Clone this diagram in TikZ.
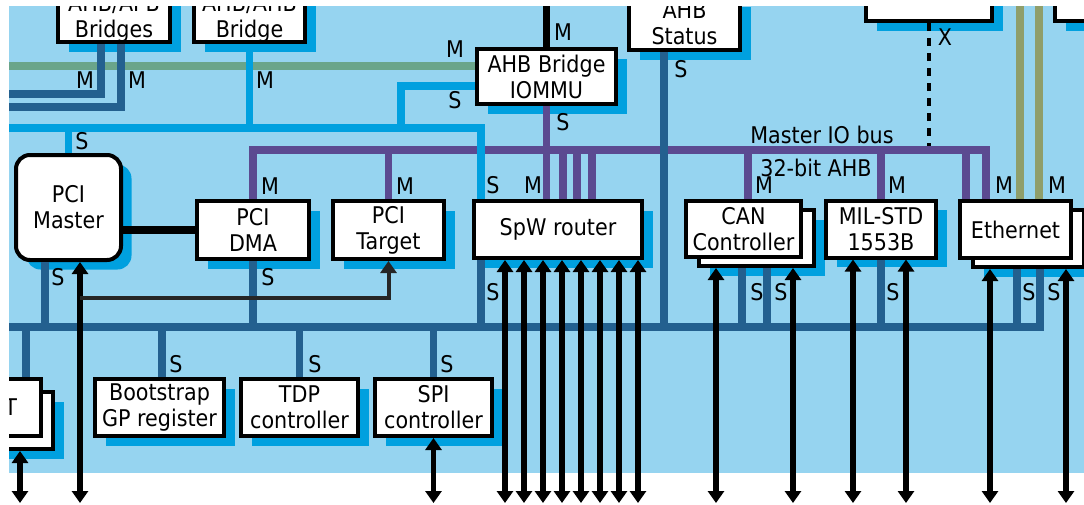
\documentclass[tikz,border=0pt]{standalone}
\usepackage{fontspec}
\setmainfont{DejaVu Sans}[FakeStretch=0.9]
\usetikzlibrary{arrows.meta,positioning,shadows}

\definecolor{bgblue}{HTML}{96D4F0}
\definecolor{shadeblue}{HTML}{00A0DF}
\definecolor{slaveblue}{HTML}{23608F}
\definecolor{iopurple}{HTML}{5B4A91}
\definecolor{pcigreen}{HTML}{6AA58A}
\definecolor{ethgreen}{HTML}{8F9E6B}

\begin{document}
\begin{tikzpicture}[
    x=1pt, y=-1pt,
    font=\fontsize{23}{26}\selectfont,
    every node/.style={align=center},
    box/.style={
        draw=black,
        line width=4pt,
        fill=white,
        inner sep=0pt,
        drop shadow={shadow xshift=10.5pt, shadow yshift=-9.5pt,
            fill=shadeblue, opacity=1}
    },
    front/.style={
        draw=black,
        line width=4pt,
        fill=white,
        inner sep=0pt
    },
    tag/.style={inner sep=0pt},
    bus/.style={line width=7.5pt},
    ahbline/.style={bus, draw=shadeblue},
    slvline/.style={bus, draw=slaveblue},
    mioline/.style={bus, draw=iopurple},
    pciline/.style={bus, draw=pcigreen},
    ethline/.style={bus, draw=ethgreen},
    link/.style={line width=7.5pt, draw=black},
    io/.style={
        {Triangle[length=12pt,width=16pt]}-{Triangle[length=12pt,width=16pt]},
        line width=5.5pt
    },
    cfg/.style={
        -{Triangle[length=12pt,width=16pt]},
        line width=4pt,
        draw=black!85
    },
    xlink/.style={line width=4pt, dash pattern=on 8pt off 7pt}
]
\useasboundingbox (0,0) rectangle (1084,504);
\fill[bgblue] (9,6) rectangle (1084,473);

\begin{scope}
\clip (9,6) rectangle (1084,504);

% levels of the buses
\coordinate (top) at (0,0);
\coordinate (floor) at (0,503);
\coordinate (gbus) at (9,66);
\coordinate (abus) at (9,128);
\coordinate (mio) at (253,150);
\coordinate (sbus) at (9,327);

% top row
\node[box, minimum width=112pt, minimum height=48pt] (apb) at (114,18.3) {AHB/APB\\Bridges};
\node[box, minimum width=111pt, minimum height=48pt] (ahb2) at (249.5,18.3) {AHB/AHB\\Bridge};
\node[box, minimum width=139pt, minimum height=55pt] (iommu) at (546.5,76.5) {AHB Bridge\\IOMMU};
\node[box, minimum width=111pt, minimum height=53pt] (status) at (684.5,23.6) {AHB\\Status};
\node[box, minimum width=126pt, minimum height=58pt] (topr) at (929,-8) {};
\node[box, minimum width=126pt, minimum height=58pt] (farr) at (1118,-8) {};

% master row
\node[box, rounded corners=14pt, minimum width=105pt, minimum height=105pt] (pcim) at (68.5,207.5) {PCI\\Master};
\node[box, minimum width=112pt, minimum height=58pt] (dma) at (253,230) {PCI\\DMA};
\node[box, minimum width=111pt, minimum height=58pt, right=20pt of dma] (target) {PCI\\Target};
\node[box, minimum width=168pt, minimum height=57pt] (spw) at (558,229.5) {SpW router};
\node[box, minimum width=115pt, minimum height=56pt] (canb) at (756.5,238) {};
\node[front, minimum width=115pt, minimum height=56pt] (canf) at ([shift={(-13,-9)}]canb.center) {CAN\\Controller};
\node[box, minimum width=110pt, minimum height=57pt, right=21pt of canf] (mil) {MIL-STD\\1553B};
\node[box, minimum width=111pt, minimum height=57pt] (ethb) at (1028.5,238.5) {};
\node[front, minimum width=111pt, minimum height=57pt] (ethf) at ([shift={(-13,-9)}]ethb.center) {Ethernet};

% slave row
\node[box, minimum width=111pt, minimum height=57pt] (ub) at (-2.5,420.5) {};
\node[front, minimum width=111pt, minimum height=57pt, text width=63pt, align=right] (uf) at ([shift={(-12,-13)}]ub.center) {T};
\node[box, minimum width=129pt, minimum height=57pt] (boot) at (159.5,407.5) {Bootstrap\\GP register};
\node[box, minimum width=117pt, minimum height=57pt, right=13pt of boot] (tdp) {TDP\\controller};
\node[box, minimum width=117pt, minimum height=57pt, right=13pt of tdp] (spi) {SPI\\controller};

% PCI bus and Ethernet debug lines
\draw[pciline] (gbus) -- (gbus -| iommu.west);
\foreach \d in {4.5,23.5}
    \draw[ethline] ([xshift=\d pt]ethf.north) -- ([xshift=\d pt]ethf.north |- top);
\draw[xlink] (topr.south) -- (topr.south |- mio);

% master IO bus
\draw[mioline] (dma.north) -- (dma.north |- mio) -| ([xshift=-29.5pt]ethf.north);
\draw[mioline] (target.north) -- (target.north |- mio);
\draw[mioline] (iommu.south) -- (iommu.south |- spw.north);
\foreach \d in {5,19,34}
    \draw[mioline] ([xshift=\d pt]spw.north) -- ([xshift=\d pt]spw.north |- mio);
\draw[mioline] ([xshift=4.5pt]canf.north) -- ([xshift=4.5pt]canf.north |- mio);
\draw[mioline] (mil.north) -- (mil.north |- mio);
\draw[mioline] ([xshift=-49.5pt]ethf.north) -- ([xshift=-49.5pt]ethf.north |- mio);

% processor AHB bus
\draw[ahbline] (ahb2.south) -- (ahb2.south |- abus);
\draw[ahbline] (pcim.north) -- (pcim.north |- abus);
\draw[ahbline] (abus) -| ([xshift=-77pt]spw.north);
\coordinate (iotap) at (401,86);
\draw[ahbline] (iotap -| iommu.west) -| (iotap |- abus);

% slave bus
\coordinate (west1) at (9,94);
\coordinate (west2) at (9,107);
\draw[slvline] ([xshift=-13pt]apb.south) |- (west1);
\draw[slvline] ([xshift=7pt]apb.south) |- (west2);
\draw[slvline] ([xshift=-20.5pt]status.south) -- ([xshift=-20.5pt]status.south |- sbus);
\draw[slvline] (sbus) -| ([xshift=11.5pt]ethb.south);
\draw[slvline] ([xshift=-11.5pt]ethb.south) -- ([xshift=-11.5pt]ethb.south |- sbus);
\draw[slvline] ([xshift=-23.5pt]pcim.south) -- ([xshift=-23.5pt]pcim.south |- sbus);
\draw[slvline] (dma.south) -- (dma.south |- sbus);
\draw[slvline] ([xshift=-77pt]spw.south) -- ([xshift=-77pt]spw.south |- sbus);
\foreach \d in {-14.5,10.5}
    \draw[slvline] ([xshift=\d pt]canb.south) -- ([xshift=\d pt]canb.south |- sbus);
\draw[slvline] (mil.south) -- (mil.south |- sbus);
\draw[slvline] ([xshift=40.5pt]uf.north) -- ([xshift=40.5pt]uf.north |- sbus);
\draw[slvline] ([xshift=2.5pt]boot.north) -- ([xshift=2.5pt]boot.north |- sbus);
\draw[slvline] (tdp.north) -- (tdp.north |- sbus);
\draw[slvline] (spi.north) -- (spi.north |- sbus);

% PCI links
\draw[link] (pcim.east |- dma.west) -- (dma.west);
\draw[link] (iommu.north) -- (iommu.north |- top);
\draw[io] ([xshift=11.5pt]pcim.south) -- ([xshift=11.5pt]pcim.south |- floor);
\path ([xshift=11.5pt]pcim.south) ++(0,36) coordinate (tap);
\draw[cfg] (tap) -| (target.south);

% external interfaces
\foreach \d in {-53,-34,...,80}
    \draw[io] ([xshift=\d pt]spw.south) -- ([xshift=\d pt]spw.south |- floor);
\foreach \d in {-40.5,36.5}
    \draw[io] ([xshift=\d pt]canb.south) -- ([xshift=\d pt]canb.south |- floor);
\foreach \d in {-28,25}
    \draw[io] ([xshift=\d pt]mil.south) -- ([xshift=\d pt]mil.south |- floor);
\foreach \d in {-38.5,37.5}
    \draw[io] ([xshift=\d pt]ethb.south) -- ([xshift=\d pt]ethb.south |- floor);
\draw[io] (spi.south) -- (spi.south |- floor);
\draw[io] ([xshift=22.5pt]ub.south) -- ([xshift=22.5pt]ub.south |- floor);

% port tags
\foreach \t/\x/\y [count=\i] in {
    M/85/80, M/137/80, M/265/80, M/455/49, M/563/32,
    S/455/100, S/563/122, S/681/69, X/945/37, S/82/141,
    M/270/186, M/405/186, S/493/185, M/533/185, M/764/185,
    M/897/185, M/1004/185, M/1057/185,
    S/58/277, S/268/277, S/493/292, S/757/292, S/781/292,
    S/893/292, S/1029/292, S/1054/292,
    S/176/364, S/315/364, S/447/364}
    \node[tag] (tag\i) at (\x,\y) {\t};
\node[tag] (mionote) at (822,134.5) {Master IO bus};
\node[tag] (ahbnote) at (816,168) {32-bit AHB};
\end{scope}
\end{tikzpicture}
\end{document}
